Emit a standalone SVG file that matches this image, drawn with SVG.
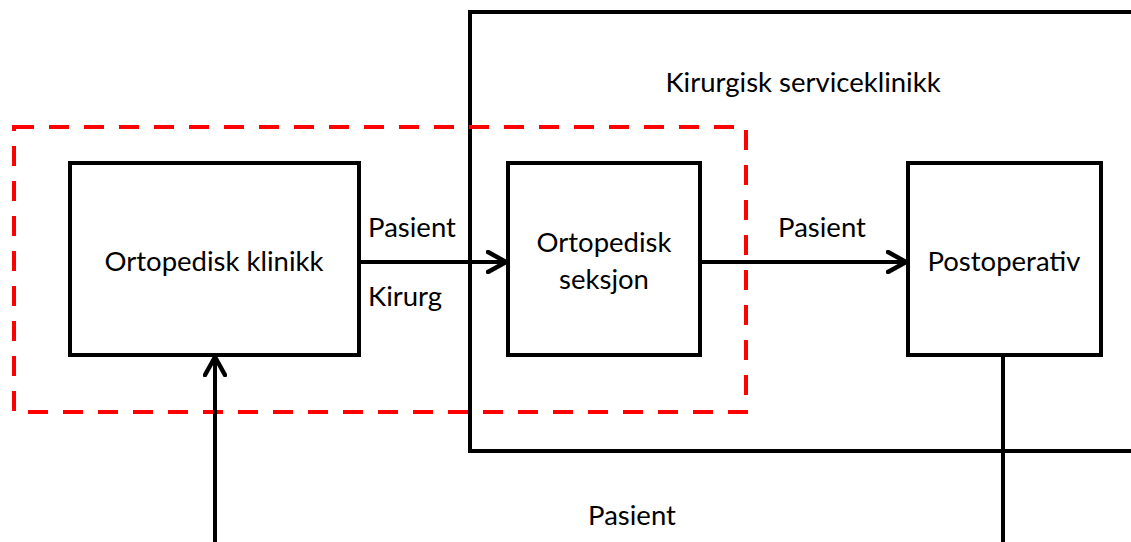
<svg xmlns="http://www.w3.org/2000/svg" width="1131" height="542" viewBox="0 0 1131 542">
  <style>
    .box { fill: none; stroke: #000; stroke-width: 4; }
    .wire { fill: none; stroke: #000; stroke-width: 4; }
    .scope { fill: none; stroke: #ff0000; stroke-width: 4; stroke-dasharray: 20 15; }
    text { font-family: Lato, "Liberation Sans", sans-serif; font-size: 27.5px; fill: #000; }
    .c { text-anchor: middle; }
  </style>
  <defs>
    <marker id="arrow" markerWidth="24" markerHeight="24" refX="20" refY="12" orient="auto" markerUnits="userSpaceOnUse">
      <path d="M2,2 L20,12 L2,22" fill="none" stroke="#000" stroke-width="4.5" stroke-linecap="round" stroke-linejoin="round"/>
    </marker>
  </defs>
  <rect width="1131" height="542" fill="#fff"/>

  <!-- service clinic boundary (continues past the right edge) -->
  <g id="serviceklinikk">
    <path class="box" d="M1135,12 H470 V451 H1135"/>
    <text class="c" x="803" y="92">Kirurgisk serviceklinikk</text>
  </g>

  <!-- scope marker around the orthopaedic units -->
  <rect id="scope" class="scope" x="14" y="127" width="732" height="285"/>

  <g id="ortopedisk-klinikk">
    <rect class="box" x="70" y="163" width="289" height="192"/>
    <text class="c" x="214" y="271">Ortopedisk klinikk</text>
  </g>

  <g id="ortopedisk-seksjon">
    <rect class="box" x="508" y="163" width="192" height="192"/>
    <text class="c" x="604" y="252">Ortopedisk</text>
    <text class="c" x="604" y="289">seksjon</text>
  </g>

  <g id="postoperativ">
    <rect class="box" x="908" y="163" width="193" height="192"/>
    <text class="c" x="1004" y="271">Postoperativ</text>
  </g>

  <g id="connectors">
    <line class="wire" x1="359" y1="262" x2="506" y2="262" marker-end="url(#arrow)"/>
    <line class="wire" x1="700" y1="262" x2="906" y2="262" marker-end="url(#arrow)"/>
    <line class="wire" x1="215" y1="542" x2="215" y2="357" marker-end="url(#arrow)"/>
    <line class="wire" x1="1003" y1="355" x2="1003" y2="542"/>
    <text class="c" x="412" y="237">Pasient</text>
    <text class="c" x="405" y="306">Kirurg</text>
    <text class="c" x="822" y="237">Pasient</text>
    <text class="c" x="632" y="525">Pasient</text>
  </g>
</svg>
